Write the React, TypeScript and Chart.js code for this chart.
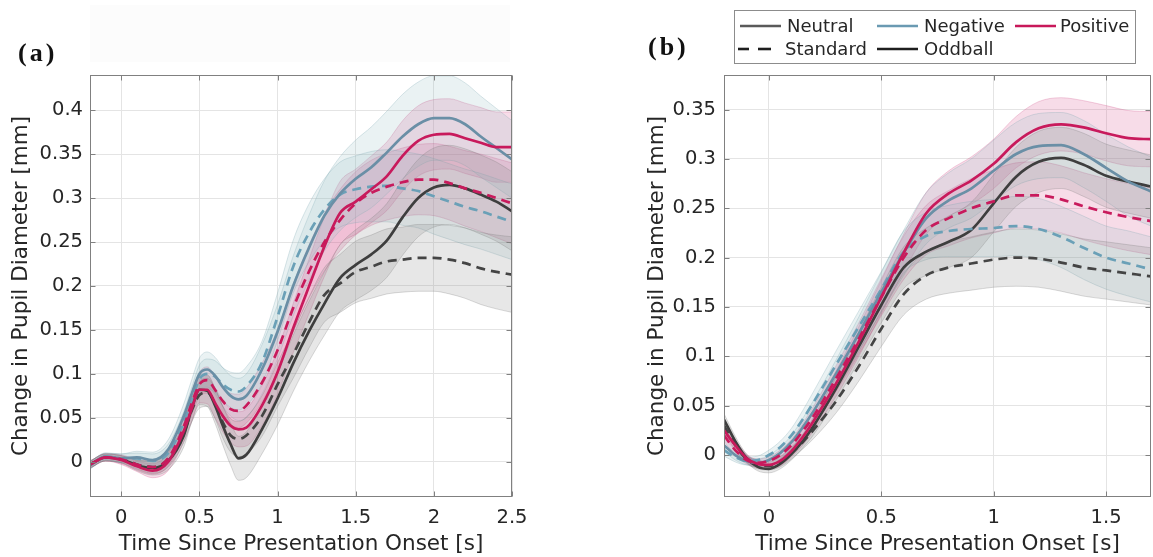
import React, { useEffect, useRef } from "react";
import { Chart, registerables } from "chart.js";

Chart.register(...registerables);

// ---------- Panel (a) data ----------
const timeA = [-0.2, -0.1, 0, 0.1, 0.2, 0.3, 0.4, 0.45, 0.5, 0.55, 0.6, 0.65, 0.7, 0.75, 0.8, 0.9, 1.0, 1.1, 1.2, 1.3, 1.4, 1.5, 1.6, 1.7, 1.8, 1.9, 2.0, 2.1, 2.2, 2.3, 2.4, 2.5];
const aNeutralOddball = [-0.003, 0.005, 0.003, -0.004, -0.007, 0.001, 0.03, 0.06, 0.082, 0.081, 0.064, 0.041, 0.02, 0.004, 0.008, 0.037, 0.072, 0.112, 0.148, 0.18, 0.209, 0.224, 0.236, 0.252, 0.278, 0.3, 0.312, 0.315, 0.311, 0.304, 0.296, 0.285];
const aNeutralStandard = [-0.003, 0.005, 0.003, -0.003, -0.006, 0.003, 0.033, 0.058, 0.076, 0.079, 0.066, 0.045, 0.03, 0.026, 0.03, 0.052, 0.088, 0.122, 0.158, 0.19, 0.203, 0.216, 0.222, 0.228, 0.23, 0.232, 0.232, 0.23, 0.226, 0.22, 0.216, 0.213];
const aNegativeOddball = [-0.004, 0.006, 0.004, 0.005, 0.002, 0.014, 0.052, 0.077, 0.1, 0.105, 0.098, 0.085, 0.075, 0.071, 0.075, 0.105, 0.148, 0.2, 0.243, 0.28, 0.305, 0.322, 0.335, 0.352, 0.37, 0.384, 0.391, 0.391, 0.384, 0.37, 0.357, 0.344];
const aNegativeStandard = [-0.004, 0.006, 0.004, 0.004, 0.001, 0.01, 0.045, 0.07, 0.094, 0.1, 0.097, 0.088, 0.082, 0.08, 0.086, 0.113, 0.165, 0.222, 0.26, 0.287, 0.304, 0.31, 0.313, 0.314, 0.311, 0.308, 0.302, 0.296, 0.29, 0.285, 0.279, 0.273];
const aPositiveOddball = [-0.003, 0.005, 0.002, -0.005, -0.01, 0.0, 0.035, 0.06, 0.082, 0.082, 0.067, 0.052, 0.041, 0.037, 0.039, 0.064, 0.102, 0.152, 0.199, 0.245, 0.283, 0.296, 0.31, 0.325, 0.348, 0.365, 0.372, 0.373, 0.368, 0.363, 0.358, 0.358];
const aPositiveStandard = [-0.003, 0.005, 0.003, -0.003, -0.006, 0.004, 0.04, 0.066, 0.088, 0.093, 0.082, 0.069, 0.06, 0.058, 0.064, 0.09, 0.127, 0.175, 0.216, 0.25, 0.275, 0.294, 0.306, 0.313, 0.318, 0.321, 0.321, 0.317, 0.311, 0.306, 0.3, 0.294];

const aNeutralOddballErr = [0.004, 0.004, 0.004, 0.006, 0.008, 0.01, 0.013, 0.015, 0.017, 0.018, 0.02, 0.022, 0.024, 0.025, 0.026, 0.028, 0.03, 0.032, 0.034, 0.036, 0.038, 0.04, 0.041, 0.042, 0.043, 0.044, 0.045, 0.045, 0.045, 0.045, 0.045, 0.045];
const aNeutralStandardErr = [0.004, 0.004, 0.004, 0.005, 0.007, 0.009, 0.011, 0.013, 0.015, 0.016, 0.017, 0.018, 0.019, 0.02, 0.021, 0.023, 0.025, 0.027, 0.029, 0.031, 0.033, 0.035, 0.036, 0.037, 0.037, 0.038, 0.038, 0.039, 0.04, 0.041, 0.042, 0.043];
const aNegativeOddballErr = [0.004, 0.004, 0.005, 0.007, 0.009, 0.011, 0.014, 0.016, 0.018, 0.02, 0.021, 0.022, 0.023, 0.024, 0.025, 0.028, 0.031, 0.034, 0.037, 0.04, 0.042, 0.044, 0.046, 0.047, 0.048, 0.048, 0.048, 0.048, 0.047, 0.046, 0.045, 0.044];
const aNegativeStandardErr = [0.004, 0.004, 0.005, 0.006, 0.008, 0.01, 0.012, 0.014, 0.016, 0.017, 0.018, 0.019, 0.02, 0.021, 0.022, 0.024, 0.027, 0.03, 0.033, 0.035, 0.037, 0.038, 0.04, 0.041, 0.042, 0.042, 0.043, 0.043, 0.043, 0.043, 0.043, 0.043];
const aPositiveOddballErr = [0.004, 0.004, 0.005, 0.006, 0.008, 0.01, 0.012, 0.014, 0.015, 0.016, 0.017, 0.018, 0.019, 0.02, 0.021, 0.023, 0.025, 0.028, 0.031, 0.034, 0.036, 0.037, 0.038, 0.039, 0.04, 0.04, 0.04, 0.04, 0.04, 0.04, 0.04, 0.04];
const aPositiveStandardErr = [0.004, 0.004, 0.005, 0.006, 0.008, 0.009, 0.011, 0.013, 0.014, 0.015, 0.016, 0.017, 0.018, 0.019, 0.02, 0.022, 0.024, 0.027, 0.03, 0.033, 0.035, 0.036, 0.037, 0.038, 0.039, 0.04, 0.041, 0.042, 0.043, 0.044, 0.045, 0.046];

const xTicksA = [0, 0.5, 1, 1.5, 2, 2.5];
const yTicksA = [0, 0.05, 0.1, 0.15, 0.2, 0.25, 0.3, 0.35, 0.4];

// ---------- Panel (b) data ----------
const timeB = [-0.2, -0.15, -0.1, -0.05, 0, 0.05, 0.1, 0.15, 0.2, 0.3, 0.4, 0.5, 0.6, 0.7, 0.8, 0.9, 1.0, 1.1, 1.2, 1.3, 1.4, 1.5, 1.6, 1.7];
const bNeutralOddball = [0.036, 0.014, -0.003, -0.012, -0.014, -0.009, 0.001, 0.014, 0.03, 0.068, 0.11, 0.152, 0.19, 0.206, 0.216, 0.228, 0.255, 0.282, 0.297, 0.301, 0.294, 0.283, 0.277, 0.272];
const bNeutralStandard = [0.03, 0.01, -0.004, -0.01, -0.011, -0.007, 0.002, 0.013, 0.026, 0.055, 0.09, 0.128, 0.163, 0.182, 0.19, 0.194, 0.198, 0.2, 0.199, 0.195, 0.19, 0.187, 0.184, 0.181];
const bNegativeOddball = [0.01, 0.0, -0.006, -0.008, -0.005, 0.002, 0.013, 0.028, 0.045, 0.083, 0.123, 0.165, 0.205, 0.24, 0.258, 0.27, 0.288, 0.305, 0.313, 0.314, 0.305, 0.291, 0.277, 0.267];
const bNegativeStandard = [0.005, -0.002, -0.006, -0.005, 0.0, 0.008, 0.02, 0.036, 0.054, 0.092, 0.13, 0.168, 0.206, 0.222, 0.227, 0.229, 0.23, 0.232, 0.229, 0.221, 0.21, 0.2, 0.194, 0.188];
const bPositiveOddball = [0.025, 0.01, -0.003, -0.009, -0.01, -0.006, 0.004, 0.018, 0.035, 0.073, 0.115, 0.16, 0.205, 0.245, 0.265, 0.278, 0.295, 0.317, 0.331, 0.335, 0.332, 0.326, 0.321, 0.32];
const bPositiveStandard = [0.02, 0.005, -0.005, -0.008, -0.006, 0.0, 0.01, 0.024, 0.04, 0.078, 0.118, 0.16, 0.2, 0.228, 0.24, 0.25, 0.257, 0.263, 0.263, 0.259, 0.252, 0.246, 0.241, 0.237];

const bNeutralOddballErr = [0.006, 0.005, 0.004, 0.004, 0.004, 0.005, 0.006, 0.007, 0.009, 0.012, 0.015, 0.018, 0.021, 0.024, 0.026, 0.028, 0.029, 0.03, 0.031, 0.031, 0.032, 0.032, 0.032, 0.032];
const bNeutralStandardErr = [0.006, 0.005, 0.004, 0.004, 0.004, 0.005, 0.006, 0.007, 0.009, 0.012, 0.015, 0.018, 0.021, 0.024, 0.026, 0.027, 0.028, 0.029, 0.029, 0.029, 0.029, 0.029, 0.029, 0.029];
const bNegativeOddballErr = [0.006, 0.005, 0.004, 0.004, 0.005, 0.006, 0.007, 0.009, 0.011, 0.014, 0.017, 0.02, 0.023, 0.026, 0.028, 0.03, 0.031, 0.032, 0.033, 0.033, 0.034, 0.034, 0.035, 0.035];
const bNegativeStandardErr = [0.006, 0.005, 0.004, 0.004, 0.005, 0.006, 0.007, 0.009, 0.011, 0.014, 0.016, 0.018, 0.021, 0.024, 0.026, 0.028, 0.029, 0.03, 0.031, 0.031, 0.032, 0.032, 0.033, 0.033];
const bPositiveOddballErr = [0.006, 0.005, 0.004, 0.004, 0.004, 0.005, 0.006, 0.008, 0.01, 0.013, 0.015, 0.017, 0.019, 0.021, 0.023, 0.024, 0.025, 0.026, 0.027, 0.027, 0.027, 0.028, 0.028, 0.028];
const bPositiveStandardErr = [0.006, 0.005, 0.004, 0.004, 0.004, 0.005, 0.006, 0.008, 0.01, 0.013, 0.016, 0.019, 0.022, 0.025, 0.028, 0.03, 0.032, 0.033, 0.034, 0.034, 0.034, 0.034, 0.034, 0.034];

const xTicksB = [0, 0.5, 1, 1.5];
const yTicksB = [0, 0.05, 0.1, 0.15, 0.2, 0.25, 0.3, 0.35];

const xTitle = "Time Since Presentation Onset [s]";
const yTitle = "Change in Pupil Diameter [mm]";

// ---------- Styles ----------
const FONT = "'DejaVu Sans', sans-serif";
const TEXT = "#262626";
const GRID = "#e4e4e4";
const FRAME = "#808080";

const STYLE = {
  neutral: { line: "#3e3e3e", dashLine: "#444444", band: "rgba(135,135,135,0.2)", edge: "rgba(120,120,120,0.35)" },
  negative: { line: "#6a8fa6", dashLine: "#6aa0b7", band: "rgba(150,188,195,0.2)", edge: "rgba(120,165,175,0.35)" },
  positive: { line: "#c81a5c", dashLine: "#c81a5c", band: "rgba(214,80,140,0.2)", edge: "rgba(200,60,120,0.3)" },
};
const DASH = [9, 6];

type Cond = "neutral" | "negative" | "positive";
type Series = { cond: Cond; dashed: boolean; mean: number[]; err: number[]; z: number };

const seriesA: Series[] = [
  { cond: "neutral", dashed: true, mean: aNeutralStandard, err: aNeutralStandardErr, z: 5 },
  { cond: "neutral", dashed: false, mean: aNeutralOddball, err: aNeutralOddballErr, z: 4 },
  { cond: "negative", dashed: true, mean: aNegativeStandard, err: aNegativeStandardErr, z: 3 },
  { cond: "negative", dashed: false, mean: aNegativeOddball, err: aNegativeOddballErr, z: 2 },
  { cond: "positive", dashed: true, mean: aPositiveStandard, err: aPositiveStandardErr, z: 1 },
  { cond: "positive", dashed: false, mean: aPositiveOddball, err: aPositiveOddballErr, z: 0 },
];
const seriesB: Series[] = [
  { cond: "neutral", dashed: true, mean: bNeutralStandard, err: bNeutralStandardErr, z: 5 },
  { cond: "neutral", dashed: false, mean: bNeutralOddball, err: bNeutralOddballErr, z: 4 },
  { cond: "negative", dashed: true, mean: bNegativeStandard, err: bNegativeStandardErr, z: 3 },
  { cond: "negative", dashed: false, mean: bNegativeOddball, err: bNegativeOddballErr, z: 2 },
  { cond: "positive", dashed: true, mean: bPositiveStandard, err: bPositiveStandardErr, z: 1 },
  { cond: "positive", dashed: false, mean: bPositiveOddball, err: bPositiveOddballErr, z: 0 },
];

function buildDatasets(times: number[], series: Series[]) {
  const bands: any[] = [];
  const lines: any[] = [];
  series.forEach((s) => {
    const st = STYLE[s.cond];
    bands.push({
      data: times.map((t, i) => ({ x: t, y: s.mean[i] + s.err[i] })),
      borderColor: st.edge,
      borderWidth: 0.8,
      pointRadius: 0,
      fill: false,
      cubicInterpolationMode: "monotone",
      order: 20,
    });
    bands.push({
      data: times.map((t, i) => ({ x: t, y: s.mean[i] - s.err[i] })),
      borderColor: st.edge,
      borderWidth: 0.8,
      backgroundColor: st.band,
      pointRadius: 0,
      fill: "-1",
      cubicInterpolationMode: "monotone",
      order: 20,
    });
  });
  series.forEach((s) => {
    const st = STYLE[s.cond];
    lines.push({
      data: times.map((t, i) => ({ x: t, y: s.mean[i] })),
      borderColor: s.dashed ? st.dashLine : st.line,
      borderWidth: 2.7,
      borderDash: s.dashed ? DASH : [],
      pointRadius: 0,
      fill: false,
      cubicInterpolationMode: "monotone",
      order: s.z,
    });
  });
  return [...bands, ...lines];
}

const framePlugin = {
  id: "frame",
  afterDatasetsDraw(chart: any) {
    const { ctx, chartArea: a, scales } = chart;
    ctx.save();
    ctx.strokeStyle = FRAME;
    ctx.lineWidth = 1;
    const l = Math.round(a.left) + 0.5;
    const r = Math.round(a.right) - 0.5;
    const t = Math.round(a.top) + 0.5;
    const b = Math.round(a.bottom) - 0.5;
    ctx.strokeRect(l, t, r - l, b - t);
    ctx.beginPath();
    scales.x.ticks.forEach((tk: any) => {
      const px = Math.round(scales.x.getPixelForValue(tk.value)) + 0.5;
      ctx.moveTo(px, b);
      ctx.lineTo(px, b - 5);
      ctx.moveTo(px, t);
      ctx.lineTo(px, t + 5);
    });
    scales.y.ticks.forEach((tk: any) => {
      const py = Math.round(scales.y.getPixelForValue(tk.value)) + 0.5;
      ctx.moveTo(l, py);
      ctx.lineTo(l + 5, py);
      ctx.moveTo(r, py);
      ctx.lineTo(r - 5, py);
    });
    ctx.stroke();
    ctx.restore();
  },
};

const fmt = (v: any) => String(+Number(v).toFixed(3));

type PanelProps = {
  left: number;
  width: number;
  times: number[];
  series: Series[];
  xMin: number;
  xMax: number;
  yMin: number;
  yMax: number;
  xTicks: number[];
  yTicks: number[];
  yAxisWidth: number;
  padRight: number;
  yTitlePad: number;
  yTickPad: number;
};

function zeroPad(axis: any) {
  axis.paddingLeft = 0;
  axis.paddingRight = 0;
  axis.paddingTop = 0;
  axis.paddingBottom = 0;
}

function Panel(p: PanelProps) {
  const ref = useRef<HTMLCanvasElement | null>(null);
  useEffect(() => {
    if (!ref.current) return;
    const chart = new Chart(ref.current, {
      type: "line",
      data: { datasets: buildDatasets(p.times, p.series) },
      plugins: [framePlugin],
      options: {
        animation: false,
        responsive: false,
        maintainAspectRatio: false,
        layout: { padding: { top: 75, right: p.padRight, left: 0, bottom: 0 } },
        plugins: { legend: { display: false }, tooltip: { enabled: false } },
        scales: {
          x: {
            type: "linear",
            min: p.xMin,
            max: p.xMax,
            afterBuildTicks: (axis: any) => {
              axis.ticks = p.xTicks.map((v) => ({ value: v }));
            },
            afterFit: (axis: any) => {
              axis.height = 60;
              zeroPad(axis);
            },
            ticks: { color: TEXT, font: { family: FONT, size: 19.5 }, padding: 9, callback: fmt, maxRotation: 0, autoSkip: false },
            grid: { color: GRID, lineWidth: 1, drawTicks: false },
            border: { display: false },
            title: { display: true, text: xTitle, color: TEXT, font: { family: FONT, size: 21.5 }, padding: { top: 0, bottom: 0 } },
          },
          y: {
            type: "linear",
            min: p.yMin,
            max: p.yMax,
            afterBuildTicks: (axis: any) => {
              axis.ticks = p.yTicks.map((v) => ({ value: v }));
            },
            afterFit: (axis: any) => {
              axis.width = p.yAxisWidth;
              zeroPad(axis);
            },
            ticks: { color: TEXT, font: { family: FONT, size: 19.5 }, padding: p.yTickPad, callback: fmt, autoSkip: false },
            grid: { color: GRID, lineWidth: 1, drawTicks: false },
            border: { display: false },
            title: { display: true, text: yTitle, color: TEXT, font: { family: FONT, size: 21.5 }, padding: { top: p.yTitlePad, bottom: 0 } },
          },
        },
      } as any,
    });
    return () => chart.destroy();
  }, []);
  return (
    <canvas
      ref={ref}
      width={p.width}
      height={557}
      style={{ position: "absolute", left: p.left, top: 0, width: p.width, height: 557 }}
    />
  );
}

function LegendLine({ x, y, color, dashed }: { x: number; y: number; color: string; dashed?: boolean }) {
  return (
    <svg style={{ position: "absolute", left: x, top: y - 3 }} width={42} height={6}>
      {dashed ? (
        <>
          <line x1={2} y1={3} x2={13} y2={3} stroke={color} strokeWidth={2.6} />
          <line x1={22} y1={3} x2={35} y2={3} stroke={color} strokeWidth={2.6} />
        </>
      ) : (
        <line x1={0} y1={3} x2={41} y2={3} stroke={color} strokeWidth={2.6} />
      )}
    </svg>
  );
}

function LegendText({ x, y, text }: { x: number; y: number; text: string }) {
  return (
    <div style={{ position: "absolute", left: x, top: y - 11, height: 22, lineHeight: "22px", whiteSpace: "nowrap" }}>{text}</div>
  );
}

function Legend() {
  return (
    <div
      style={{
        position: "absolute",
        left: 734,
        top: 10,
        width: 400,
        height: 52,
        border: "1px solid #8c8c8c",
        background: "#ffffff",
        fontFamily: FONT,
        fontSize: 18,
        color: TEXT,
      }}
    >
      <LegendLine x={5} y={15} color="#5a5a5a" />
      <LegendText x={52} y={15} text="Neutral" />
      <LegendLine x={142} y={15} color="#6a9ab2" />
      <LegendText x={189} y={15} text="Negative" />
      <LegendLine x={280} y={15} color="#c8185a" />
      <LegendText x={325} y={15} text="Positive" />
      <LegendLine x={1} y={38} color="#1e1e1e" dashed />
      <LegendText x={50} y={38} text="Standard" />
      <LegendLine x={142} y={38} color="#1e1e1e" />
      <LegendText x={189} y={38} text="Oddball" />
    </div>
  );
}

const panelLabel: React.CSSProperties = {
  position: "absolute",
  fontFamily: "'Liberation Serif', 'Times New Roman', serif",
  fontWeight: "bold",
  fontSize: 26,
  letterSpacing: 3,
  lineHeight: "26px",
  color: "#111",
};

export default function App() {
  return (
    <div style={{ position: "absolute", left: 0, top: 0, width: 1153, height: 557, background: "#ffffff", overflow: "hidden" }}>
      <div style={{ position: "absolute", left: 90, top: 5, width: 420, height: 57, background: "#fcfcfc" }} />
      <Panel
        left={0}
        width={530}
        times={timeA}
        series={seriesA}
        xMin={-0.2}
        xMax={2.5}
        yMin={-0.04}
        yMax={0.44}
        xTicks={xTicksA}
        yTicks={yTicksA}
        yAxisWidth={90}
        padRight={18}
        yTitlePad={9}
        yTickPad={7}
      />
      <Panel
        left={632}
        width={521}
        times={timeB}
        series={seriesB}
        xMin={-0.2}
        xMax={1.7}
        yMin={-0.0425}
        yMax={0.385}
        xTicks={xTicksB}
        yTicks={yTicksB}
        yAxisWidth={92}
        padRight={2}
        yTitlePad={13}
        yTickPad={8}
      />
      <div style={{ ...panelLabel, left: 18, top: 40 }}>(a)</div>
      <div style={{ ...panelLabel, left: 648, top: 34 }}>(b)</div>
      <Legend />
    </div>
  );
}
